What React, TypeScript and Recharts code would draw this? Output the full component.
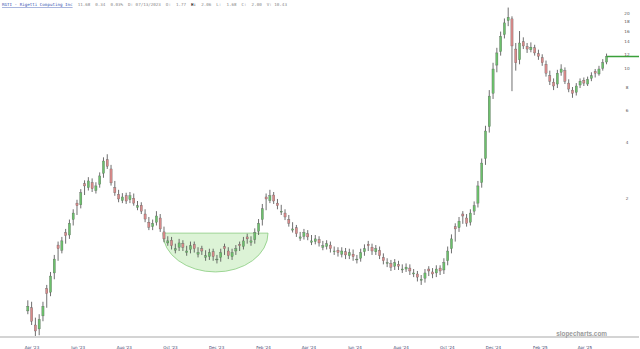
import React from 'react';
import { ComposedChart, Bar, XAxis, YAxis, ReferenceArea, ReferenceLine } from 'recharts';

// Bars are spaced STEP_DAYS calendar days apart, starting FIRST_DAY days from 2023-04-01
const FIRST_DAY = -5;
const STEP_DAYS = 5;

const open = [
  0.50, 0.52, 0.42, 0.40, 0.47, 0.66, 0.63, 0.80, 1.13, 1.06,
  1.32, 1.28, 1.55, 1.90, 1.86, 2.42, 2.30, 2.45, 2.22, 2.40,
  2.75, 3.25, 2.90, 2.30, 2.12, 1.96, 2.08, 1.98, 2.02, 1.80,
  1.85, 1.66, 1.50, 1.42, 1.50, 1.58, 1.33, 1.16, 1.20, 1.06,
  1.10, 1.15, 1.03, 1.07, 1.14, 1.01, 1.08, 0.97, 0.98, 1.04,
  0.94, 0.97, 1.11, 1.05, 0.98, 1.05, 1.14, 1.11, 1.25, 1.17,
  1.21, 1.34, 1.55, 2.05, 1.96, 2.10, 1.90, 1.70, 1.68, 1.55,
  1.36, 1.40, 1.23, 1.26, 1.30, 1.17, 1.18, 1.21, 1.10, 1.11,
  1.13, 1.04, 1.06, 1.01, 1.04, 0.99, 1.01, 0.94, 0.96, 1.04,
  1.14, 1.10, 1.04, 1.06, 0.97, 0.90, 0.90, 0.87, 0.89, 0.83,
  0.84, 0.85, 0.79, 0.79, 0.73, 0.75, 0.84, 0.81, 0.80, 0.85,
  0.83, 0.93, 1.08, 1.42, 1.40, 1.66, 1.58, 1.50, 1.72, 1.90,
  2.45, 3.30, 4.90, 7.40, 10.5, 12.4, 15.3, 18.2, 18.6, 12.8,
  11.2, 14.0, 13.2, 12.7, 13.0, 12.1, 11.5, 10.6, 9.2, 8.5,
  8.3, 9.6, 9.8, 8.4, 7.7, 7.5, 8.2, 8.7, 8.3, 8.9,
  9.7, 9.4, 10.1, 10.9,
];
const high = [
  0.57, 0.56, 0.46, 0.48, 0.56, 0.69, 0.81, 1.00, 1.18, 1.25,
  1.38, 1.55, 1.76, 1.98, 2.26, 2.52, 2.62, 2.58, 2.46, 2.78,
  3.35, 3.48, 3.05, 2.50, 2.24, 2.15, 2.16, 2.18, 2.14, 1.95,
  1.92, 1.76, 1.60, 1.55, 1.72, 1.66, 1.42, 1.26, 1.25, 1.15,
  1.22, 1.20, 1.12, 1.18, 1.18, 1.10, 1.12, 1.06, 1.08, 1.08,
  1.00, 1.08, 1.15, 1.10, 1.08, 1.13, 1.18, 1.25, 1.30, 1.26,
  1.39, 1.56, 1.88, 2.14, 2.24, 2.18, 2.00, 1.86, 1.76, 1.64,
  1.50, 1.45, 1.33, 1.38, 1.36, 1.28, 1.28, 1.26, 1.19, 1.20,
  1.18, 1.11, 1.10, 1.10, 1.09, 1.08, 1.07, 1.00, 1.08, 1.14,
  1.19, 1.15, 1.13, 1.11, 1.02, 0.96, 0.94, 0.95, 0.93, 0.89,
  0.90, 0.89, 0.84, 0.82, 0.78, 0.84, 0.87, 0.85, 0.88, 0.88,
  0.96, 1.11, 1.29, 1.48, 1.60, 1.72, 1.66, 1.76, 1.94, 2.50,
  3.30, 4.95, 7.70, 10.8, 13.0, 15.9, 18.7, 21.4, 19.2, 13.8,
  16.0, 14.8, 13.8, 13.9, 13.5, 12.7, 12.0, 11.1, 9.8, 8.9,
  9.9, 10.6, 10.2, 8.8, 8.0, 8.4, 8.9, 9.0, 9.1, 9.6,
  10.0, 10.4, 11.3, 12.1,
];
const low = [
  0.48, 0.42, 0.36, 0.37, 0.44, 0.52, 0.60, 0.74, 0.93, 1.02,
  1.15, 1.22, 1.44, 1.64, 1.78, 2.10, 2.22, 2.18, 2.14, 2.30,
  2.60, 2.90, 2.36, 2.08, 1.92, 1.90, 1.88, 1.90, 1.84, 1.74,
  1.66, 1.50, 1.36, 1.36, 1.44, 1.33, 1.17, 1.12, 1.07, 1.02,
  1.05, 1.05, 0.99, 1.02, 1.03, 0.97, 1.00, 0.93, 0.94, 0.93,
  0.90, 0.92, 1.00, 0.95, 0.94, 1.00, 1.05, 1.07, 1.15, 1.12,
  1.15, 1.28, 1.44, 1.74, 1.90, 1.88, 1.76, 1.64, 1.54, 1.42,
  1.32, 1.25, 1.19, 1.21, 1.20, 1.13, 1.14, 1.11, 1.06, 1.07,
  1.03, 1.00, 0.98, 0.97, 0.95, 0.95, 0.93, 0.90, 0.92, 0.99,
  1.05, 1.00, 1.00, 0.95, 0.89, 0.86, 0.82, 0.83, 0.83, 0.80,
  0.81, 0.78, 0.76, 0.72, 0.69, 0.71, 0.77, 0.75, 0.76, 0.78,
  0.79, 0.88, 1.02, 1.18, 1.33, 1.47, 1.42, 1.44, 1.64, 1.80,
  2.30, 3.05, 4.55, 6.90, 9.60, 11.8, 14.6, 17.0, 7.6, 9.8,
  10.6, 12.8, 12.2, 12.3, 11.8, 11.2, 10.4, 9.1, 8.2, 7.7,
  7.9, 9.2, 8.3, 7.5, 7.0, 7.2, 7.9, 8.1, 8.1, 8.6,
  9.0, 9.2, 9.8, 10.6,
];
const close = [
  0.53, 0.44, 0.39, 0.45, 0.53, 0.62, 0.77, 0.95, 1.08, 1.19,
  1.27, 1.48, 1.68, 1.84, 2.16, 2.35, 2.50, 2.27, 2.35, 2.66,
  3.20, 3.00, 2.44, 2.16, 2.00, 2.05, 1.95, 2.08, 1.90, 1.84,
  1.72, 1.56, 1.41, 1.48, 1.62, 1.38, 1.22, 1.19, 1.12, 1.08,
  1.16, 1.10, 1.05, 1.12, 1.08, 1.03, 1.05, 0.99, 1.03, 0.98,
  0.95, 1.03, 1.08, 0.99, 1.03, 1.08, 1.12, 1.19, 1.22, 1.19,
  1.32, 1.48, 1.77, 2.00, 2.08, 1.95, 1.84, 1.72, 1.60, 1.48,
  1.38, 1.30, 1.25, 1.32, 1.25, 1.19, 1.22, 1.16, 1.12, 1.15,
  1.08, 1.05, 1.03, 1.05, 1.00, 1.03, 0.98, 0.95, 1.03, 1.08,
  1.12, 1.05, 1.08, 0.99, 0.93, 0.91, 0.86, 0.91, 0.87, 0.84,
  0.86, 0.82, 0.80, 0.76, 0.74, 0.80, 0.82, 0.79, 0.84, 0.82,
  0.91, 1.05, 1.22, 1.38, 1.52, 1.62, 1.48, 1.68, 1.84, 2.35,
  3.12, 4.64, 7.15, 10.0, 12.2, 15.0, 17.7, 19.0, 13.3, 10.8,
  13.8, 13.3, 12.8, 13.1, 12.2, 11.7, 10.8, 9.5, 8.6, 8.1,
  9.5, 10.0, 8.6, 7.8, 7.4, 8.1, 8.6, 8.4, 8.8, 9.2,
  9.5, 10.0, 10.8, 11.68,
];

const monthTickDays = [0, 61, 122, 183, 244, 306, 366, 427, 488, 549, 610, 672, 731];
const monthTickLabels = [
  "Apr '23", "Jun '23", "Aug '23", "Oct '23", "Dec '23", "Feb '24", "Apr '24",
  "Jun '24", "Aug '24", "Oct '24", "Dec '24", "Feb '25", "Apr '25",
];
const priceTicks = [2, 4, 6, 8, 10, 12, 14, 16, 18, 20];
const lastPrice = 11.68;
const cupDays = [173, 312];
const cupPrices = [0.81, 1.31];

const headerParts = [
  { t: 'RGTI - Rigetti Computing Inc', link: true },
  { t: '  11.68  0.34  0.03%  D: 07/13/2023  O:  1.77  ', link: false },
  { t: 'H:', bold: true },
  { t: '  2.06  L:  1.68  C:  2.00  V: 10.43', link: false },
];

const data = close.map((c, i) => ({
  day: FIRST_DAY + i * STEP_DAYS,
  open: open[i],
  high: high[i],
  low: low[i],
  close: c,
  range: [low[i], high[i]],
}));

const Candle = (props: any) => {
  const { x, y, width, height, payload } = props;
  if (payload == null || !isFinite(y) || !isFinite(height)) return null;
  const top0 = height < 0 ? y + height : y;
  const h = Math.abs(height);
  const lh = Math.log(payload.high);
  const ll = Math.log(payload.low);
  const k = h / (lh - ll || 1);
  const py = (v: number) => top0 + (lh - Math.log(v)) * k;
  const cx = x + width / 2;
  const up = payload.close >= payload.open;
  const bt = py(Math.max(payload.open, payload.close));
  const bb = py(Math.min(payload.open, payload.close));
  const bw = 2.2;
  return (
    <g>
      <line x1={cx} x2={cx} y1={top0} y2={top0 + h} stroke="#4a4a4a" strokeWidth={0.8} />
      <rect
        x={cx - bw / 2}
        y={bt}
        width={bw}
        height={Math.max(bb - bt, 0.8)}
        fill={up ? '#6cc06c' : '#d88a8a'}
        stroke="#555"
        strokeWidth={0.3}
      />
    </g>
  );
};

const CupShape = (props: any) => {
  const { x, y, width, height } = props;
  const top = height < 0 ? y + height : y;
  const h = Math.abs(height);
  const d = `M${x},${top} L${x + width},${top} A${width / 2},${h} 0 0 1 ${x},${top} Z`;
  return <path d={d} fill="#cdeec4" fillOpacity={0.7} stroke="#86cc7c" strokeWidth={0.8} />;
};

const XTick = (props: any) => {
  const { x, y, payload } = props;
  const idx = monthTickDays.indexOf(payload.value);
  return (
    <text x={x} y={y + 4} textAnchor="middle" fontSize={4} fill="#3b3f6e" fontFamily="DejaVu Sans">
      {idx >= 0 ? monthTickLabels[idx] : ''}
    </text>
  );
};

const YTick = (props: any) => {
  const { y, payload } = props;
  return (
    <text x={627} y={y + 1.5} textAnchor="middle" fontSize={4.2} fill="#555" fontFamily="DejaVu Sans">
      {payload.value}
    </text>
  );
};

export default function App() {
  const lastDay = data[data.length - 1].day;
  return (
    <div style={{ position: 'absolute', left: 0, top: 0, width: 640, height: 349, background: '#fff' }}>
      <ComposedChart width={640} height={349} data={data} margin={{ top: 0, right: 0, left: 0, bottom: 0 }}>
        <XAxis
          dataKey="day"
          type="number"
          domain={[-42.3, 802.4]}
          allowDataOverflow
          ticks={monthTickDays}
          tick={<XTick />}
          tickLine={false}
          axisLine={{ stroke: '#d4d4d4', strokeWidth: 2 }}
          height={12}
          interval={0}
        />
        <YAxis
          orientation="right"
          scale="log"
          domain={[0.362, 23.5]}
          allowDataOverflow
          ticks={priceTicks}
          tick={<YTick />}
          tickLine={false}
          axisLine={false}
          width={1}
          interval={0}
        />
        <ReferenceArea
          x1={cupDays[0]}
          x2={cupDays[1]}
          y1={cupPrices[0]}
          y2={cupPrices[1]}
          shape={<CupShape />}
        />
        <Bar dataKey="range" barSize={3} shape={<Candle />} isAnimationActive={false} />
        <ReferenceLine
          segment={[{ x: lastDay, y: lastPrice }, { x: 802.4, y: lastPrice }]}
          stroke="#3aa03a"
          strokeWidth={1.5}
        />
      </ComposedChart>
      <svg width={640} height={349} style={{ position: 'absolute', left: 0, top: 0, pointerEvents: 'none' }}>
        <text x={2} y={6} fontSize={4.2} fontFamily="DejaVu Sans Mono" style={{ whiteSpace: 'pre' }}>
          {headerParts.map((p, i) => (
            <tspan
              key={i}
              fill={p.link ? '#3552b0' : p.bold ? '#333' : '#888'}
              fontWeight={p.bold ? 'bold' : 'normal'}
              textDecoration={p.link ? 'underline' : undefined}
            >
              {p.t}
            </tspan>
          ))}
        </text>
        <text x={607} y={335.5} textAnchor="end" fontSize={6.4} fontWeight="bold" fill="#9a9a9a" fontFamily="Liberation Sans">
          slopecharts.com
        </text>
      </svg>
    </div>
  );
}
